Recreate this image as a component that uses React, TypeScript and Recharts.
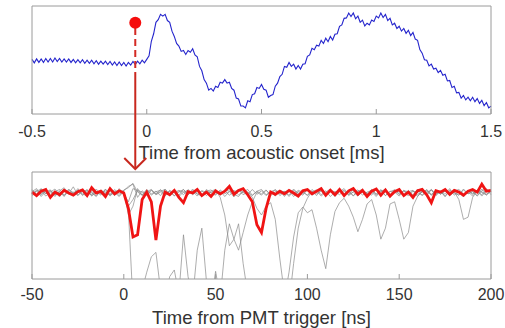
import { LineChart, Line, XAxis, YAxis, ReferenceDot, ReferenceLine } from "recharts";

// top panel: acoustic signal, sampled every 0.01 ms from -0.5 ms
const acousticStart = -0.5;
const acousticStep = 0.01;
const acousticValues = [
  0.04, -0.04, 0.05, -0.03, 0.05, -0.03, 0.06, -0.02, 0.06, -0.02,
  0.07, -0.01, 0.06, -0.02, 0.05, -0.02, 0.05, -0.03, 0.04, -0.04,
  0.03, -0.04, 0.03, -0.05, 0.02, -0.05, 0.02, -0.06, 0.01, -0.07,
  0.0, -0.07, 0.0, -0.08, -0.01, -0.09, -0.02, -0.1, -0.02, -0.1,
  -0.03, -0.11, -0.03, -0.09, -0.01, -0.08, 0.0, -0.06, 0.02, -0.04,
  0.04, 0.12, 0.45, 0.62, 0.88, 0.94, 1.06, 1.02, 1.06, 0.92,
  0.88, 0.68, 0.56, 0.4, 0.34, 0.22, 0.24, 0.15, 0.24, 0.2,
  0.28, 0.14, 0.1, -0.12, -0.22, -0.42, -0.5, -0.66, -0.62, -0.68,
  -0.57, -0.6, -0.48, -0.5, -0.42, -0.5, -0.48, -0.62, -0.66, -0.84,
  -0.86, -1.02, -1.02, -1.06, -0.9, -0.92, -0.76, -0.74, -0.6, -0.62,
  -0.53, -0.64, -0.66, -0.82, -0.78, -0.76, -0.57, -0.5, -0.35, -0.3,
  -0.12, -0.14, -0.03, -0.12, -0.07, -0.18, -0.1, -0.18, -0.07, -0.06,
  0.11, 0.14, 0.29, 0.26, 0.36, 0.34, 0.47, 0.4, 0.52, 0.44,
  0.56, 0.48, 0.61, 0.62, 0.79, 0.82, 0.97, 0.98, 1.09, 1.01,
  1.09, 0.96, 1.02, 0.88, 0.93, 0.8, 0.86, 0.82, 0.93, 0.9,
  1.02, 0.98, 1.09, 0.99, 1.06, 0.92, 0.97, 0.82, 0.86, 0.74,
  0.79, 0.68, 0.74, 0.63, 0.7, 0.58, 0.65, 0.5, 0.47, 0.26,
  0.18, 0.03, 0.02, -0.11, -0.07, -0.18, -0.16, -0.26, -0.21, -0.32,
  -0.3, -0.45, -0.44, -0.6, -0.57, -0.72, -0.71, -0.84, -0.78, -0.88,
  -0.82, -0.9, -0.82, -0.92, -0.85, -0.96, -0.89, -1.01, -0.94, -1.06,
  -1.02,
];
const acousticTicks = [-0.5, 0, 0.5, 1, 1.5];
const onset = { t: -0.05, v: 0.87, dashTop: 0.75, dashBottom: -0.27 };

// bottom panel: PMT traces, sampled every 2.5 ns from -50 ns
const pmtStart = -50;
const pmtStep = 2.5;
const redTrace = [
  0.02, -0.06, 0.04, 0.08, -0.1, 0.02, -0.04, 0.06, 0.0, -0.05,
  0.03, 0.07, -0.06, 0.12, 0.0, 0.04, -0.08, 0.1, -0.02, 0.05,
  0.0, -0.35, -1.0, -0.95, -0.15, 0.02, -0.2, -1.07, -0.3, 0.02,
  -0.04, 0.06, -0.1, -0.22, 0.03, 0.0, 0.08, -0.06, 0.02, -0.08,
  0.05, -0.02, 0.04, 0.15, -0.03, 0.06, 0.1, -0.04, -0.2, -0.72,
  -0.9, -0.35, 0.02, -0.03, 0.04, -0.02, 0.06, 0.0, -0.07, 0.05,
  0.08, -0.02, 0.04, 0.1, -0.05, 0.06, -0.04, 0.08, -0.06, 0.05,
  0.1, -0.03, 0.06, -0.08, 0.04, 0.09, -0.05, 0.07, -0.07, 0.03,
  0.08, -0.06, 0.02, -0.1, 0.05, 0.08, -0.04, -0.22, 0.05, 0.02,
  0.08, -0.03, 0.06, 0.02, -0.05, 0.04, 0.08, 0.02, 0.2, 0.04,
  0.06,
];
const gray1 = [
  0.06, -0.05, 0.1, -0.02, 0.04, -0.08, 0.05, 0.12, -0.03, 0.02,
  -0.06, 0.08, 0.0, -0.04, 0.09, -0.02, 0.05, -0.07, 0.03, 0.06,
  -0.02, -0.4, -2.5, -2.6, -2.2, -1.8, -1.45, -1.35, -2.2, -2.4,
  -1.9, -1.75, -2.3, -0.95, -1.9, -2.4, -1.3, -0.8, -2.0, -2.5,
  -1.78, -2.4, -1.3, -0.7, -1.05, -0.7, -1.6, -2.3, -2.6, -2.5,
  -2.6, -2.4, -2.6, -2.5, -2.6, -2.4, -1.8, -1.0, -0.45, -0.32,
  -0.45, -0.38, -0.8, -1.3, -1.72, -0.95, -0.42, -0.22, -0.12, -0.3,
  -0.55, -0.88, -0.6, -0.25, -0.15, -0.5, -1.05, -0.8, -0.25, -0.2,
  -0.6, -1.05, -0.9, -0.3, -0.08, 0.05, -0.06, 0.08, -0.03, 0.04,
  -0.08, 0.06, 0.0, -0.05, 0.09, -0.02, 0.03, -0.07, 0.05, 0.1,
  -0.04,
];
const gray2 = [
  -0.04, 0.07, -0.02, 0.05, -0.09, 0.03, 0.08, -0.05, 0.02, -0.03,
  0.1, -0.06, 0.04, 0.0, -0.08, 0.06, -0.02, 0.11, -0.04, 0.03,
  0.05, 0.15, 0.2, -0.1, 0.05, -0.04, 0.06, -0.02, 0.08, -0.05,
  0.03, -0.07, 0.06, 0.02, -0.04, 0.09, -0.03, 0.05, -0.06, 0.04,
  0.08, -0.02, 0.05, -0.05, 0.03, 0.07, -0.04, 0.02, -0.1, -0.35,
  -0.5, -0.3, -0.22, -0.6, -1.5, -2.3, -2.5, -1.6, -0.8, -0.35,
  -0.12, 0.04, -0.06, 0.08, -0.02, 0.05, -0.08, 0.03, 0.1, -0.04,
  0.02, -0.07, 0.06, 0.0, -0.05, 0.09, -0.03, 0.04, -0.1, 0.07,
  0.02, -0.04, 0.06, -0.08, 0.03, 0.05, -0.02, 0.08, -0.06, 0.04,
  -0.03, 0.1, -0.05, 0.02, -0.09, 0.06, -0.01, 0.04, -0.07, 0.05,
  0.02,
];
const gray3 = [
  0.08, -0.03, 0.05, -0.07, 0.02, 0.09, -0.04, 0.06, -0.01, 0.14,
  -0.05, 0.03, 0.07, -0.06, 0.04, -0.02, 0.08, -0.05, 0.01, -0.08,
  0.04, -0.5, -0.3, 0.1, -0.05, 0.07, -0.02, 0.04, -0.06, 0.09,
  -0.03, 0.05, -0.08, 0.02, 0.06, -0.04, 0.03, -0.07, 0.08, 0.0,
  -0.05, 0.07, -0.02, 0.04, -0.09, 0.06, 0.01, -0.04, 0.08, -0.03,
  0.05, -0.06, 0.03, 0.07, -0.02, 0.04, -0.08, 0.06, 0.0, -0.05,
  0.08, -0.03, 0.05, -0.07, 0.02, 0.09, -0.04, 0.06, -0.01, 0.03,
  -0.06, 0.04, 0.08, -0.05, 0.02, -0.08, 0.06, 0.03, -0.04, 0.07,
  -0.02, 0.05, -0.07, 0.04, 0.01, -0.05, 0.08, -0.03, 0.06, -0.02,
  0.04, -0.06, 0.03, -0.15, -0.6, -0.55, -0.1, 0.05, -0.04, 0.08,
  0.03,
];
const gray4 = [
  -0.06, 0.04, 0.09, -0.02, 0.06, -0.05, 0.03, -0.08, 0.07, 0.01,
  0.05, -0.04, 0.08, -0.07, 0.02, 0.06, -0.03, 0.04, -0.06, 0.1,
  -0.02, -0.2, 0.1, 0.05, -0.06, 0.03, 0.08, -0.04, 0.02, -0.07,
  0.06, 0.0, -0.05, 0.08, -0.03, 0.04, -0.07, 0.05, 0.02, -0.04,
  0.07, -0.1, -0.5, -1.2, -1.05, -1.3, -0.9, -0.5, -0.2, 0.02,
  -0.05, 0.06, -0.03, 0.08, -0.06, 0.03, 0.05, -0.08, 0.04, -0.02,
  0.07, -0.05, 0.02, 0.09, -0.04, 0.06, -0.07, 0.03, 0.05, -0.03,
  0.08, -0.06, 0.04, -0.02, 0.07, -0.05, 0.03, 0.09, -0.04, 0.02,
  -0.07, 0.05, 0.03, -0.04, 0.08, -0.06, 0.02, 0.06, -0.03, 0.04,
  -0.08, 0.05, 0.01, -0.05, 0.07, -0.02, 0.04, -0.06, 0.09, -0.03,
  0.05,
];
const gray5 = [
  0.03, 0.1, -0.05, 0.06, -0.03, 0.04, -0.09, 0.07, 0.02, -0.04,
  0.06, -0.02, -0.07, 0.05, 0.03, -0.05, 0.09, -0.03, 0.04, -0.06,
  0.07, 0.12, 0.22, 0.02, -0.04, 0.08, -0.05, 0.03, 0.06, -0.03,
  0.05, -0.06, 0.02, 0.08, -0.04, 0.06, -0.02, -0.07, 0.04, 0.07,
  -0.03, 0.05, -0.08, 0.03, 0.06, -0.04, 0.02, 0.08, -0.05, 0.04,
  -0.02, 0.07, -0.06, 0.03, 0.05, -0.08, 0.04, -0.03, 0.06, 0.02,
  -0.05, 0.08, -0.02, 0.04, -0.07, 0.05, 0.03, -0.04, 0.06, -0.06,
  0.03, 0.07, -0.05, 0.02, 0.06, -0.03, 0.08, -0.06, 0.04, 0.01,
  0.05, -0.07, 0.03, 0.06, -0.04, 0.02, 0.07, -0.05, 0.03, -0.02,
  0.06, -0.04, 0.08, 0.02, -0.06, 0.05, -0.03, 0.07, 0.03, -0.05,
  0.04,
];
const gray6 = [
  -0.02, 0.05, -0.08, 0.03, 0.07, -0.04, 0.02, -0.06, 0.09, -0.03,
  0.04, 0.08, -0.05, 0.02, -0.07, 0.06, 0.01, -0.04, 0.08, -0.02,
  0.03, -0.3, -0.15, 0.06, 0.02, -0.05, 0.07, -0.03, 0.04, 0.08,
  -0.06, 0.03, 0.05, -0.04, 0.08, -0.02, 0.06, -0.07, 0.03, 0.01,
  0.06, -0.05, 0.04, 0.07, -0.03, -0.08, 0.05, 0.02, -0.06, 0.04,
  0.08, -0.04, 0.03, -0.07, 0.06, 0.02, -0.05, 0.09, -0.02, 0.04,
  -0.06, 0.03, 0.07, -0.04, 0.05, -0.08, 0.02, 0.06, -0.03, 0.05,
  -0.07, 0.04, 0.02, -0.05, 0.08, -0.02, 0.05, -0.06, 0.03, 0.07,
  -0.04, 0.06, -0.02, 0.05, -0.08, 0.03, 0.04, -0.05, 0.07, -0.03,
  0.05, -0.06, 0.04, 0.08, -0.02, 0.03, -0.07, 0.06, 0.01, -0.04,
  0.06,
];
const grayTraces = [gray1, gray2, gray3, gray4, gray5, gray6];
const pmtTicks = [-50, 0, 50, 100, 150, 200];

const acousticData = acousticValues.map((v, i) => ({
  t: +(acousticStart + i * acousticStep).toFixed(3),
  v,
}));

const pmtData = redTrace.map((v, i) => {
  const row: Record<string, number> = { t: pmtStart + i * pmtStep, red: v };
  grayTraces.forEach((g, k) => {
    row["g" + k] = g[i];
  });
  return row;
});

const W = 505;
const LEFT = 32;
const RIGHT = 14;
const FRAME = "#9a9a9a";
const TEXT = "#333";
const TOP_DOMAIN: [number, number] = [-1.2, 1.25];
const BOTTOM_DOMAIN: [number, number] = [-1.955, 0.477];
const TOP_PLOT = { top: 6, bottom: 114 };

const tickStyle = { fill: TEXT, fontSize: 16 };

export default function App() {
  // pixel position of the onset marker, for the arrow that crosses both panels
  const plotW = W - LEFT - RIGHT;
  const ax = LEFT + ((onset.t - acousticTicks[0]) / (acousticTicks[4] - acousticTicks[0])) * plotW;
  const ay =
    TOP_PLOT.top +
    ((TOP_DOMAIN[1] - onset.dashBottom) / (TOP_DOMAIN[1] - TOP_DOMAIN[0])) *
      (TOP_PLOT.bottom - TOP_PLOT.top);
  const tipY = 169;

  // axes of width/height 1 so that all four sides of the box are drawn
  const margin = { top: 0, right: RIGHT - 1, bottom: 0, left: LEFT - 1 };

  return (
    <div
      style={{
        position: "absolute",
        left: 0,
        top: 0,
        width: W,
        height: 328,
        background: "#fff",
        fontFamily: "'Liberation Sans', Arial, Helvetica, sans-serif",
      }}
    >
      <div style={{ position: "absolute", left: 0, top: 0 }}>
        <LineChart width={W} height={165} data={acousticData} margin={{ ...margin, top: TOP_PLOT.top - 1 }}>
          <XAxis
            xAxisId="b"
            dataKey="t"
            type="number"
            domain={[-0.5, 1.5]}
            ticks={acousticTicks}
            interval={0}
            height={51}
            tickSize={-5}
            tickMargin={17}
            stroke={FRAME}
            tick={tickStyle}
            label={{ value: "Time from acoustic onset [ms]", position: "insideBottom", offset: 6, fill: TEXT, fontSize: 18.5 }}
          />
          <XAxis xAxisId="t" orientation="top" dataKey="t" type="number" domain={[-0.5, 1.5]} ticks={acousticTicks} height={1} tickSize={-5} tick={false} stroke={FRAME} />
          <YAxis yAxisId="l" domain={TOP_DOMAIN} ticks={[-1, 0, 1]} width={1} tickSize={-5} tick={false} stroke={FRAME} />
          <YAxis yAxisId="r" orientation="right" domain={TOP_DOMAIN} ticks={[-1, 0, 1]} width={1} tickSize={-5} tick={false} stroke={FRAME} />
          <Line xAxisId="b" yAxisId="l" dataKey="v" stroke="#2424cc" strokeWidth={1.1} dot={false} isAnimationActive={false} />
          <ReferenceLine
            xAxisId="b"
            yAxisId="l"
            segment={[
              { x: onset.t, y: onset.dashTop },
              { x: onset.t, y: onset.dashBottom },
            ]}
            stroke="#d42a24"
            strokeWidth={2}
            strokeDasharray="7 4"
          />
          <ReferenceDot xAxisId="b" yAxisId="l" x={onset.t} y={onset.v} r={6} fill="#f50d0d" stroke="none" />
        </LineChart>
      </div>

      <div style={{ position: "absolute", left: 0, top: 165 }}>
        <LineChart width={W} height={163} data={pmtData} margin={{ ...margin, top: 6 }}>
          <XAxis
            xAxisId="b"
            dataKey="t"
            type="number"
            domain={[-50, 200]}
            ticks={pmtTicks}
            interval={0}
            height={49}
            tickSize={-5}
            tickMargin={15}
            stroke={FRAME}
            tick={tickStyle}
            label={{ value: "Time from PMT trigger [ns]", position: "insideBottom", offset: 4, fill: TEXT, fontSize: 18.5 }}
          />
          <XAxis xAxisId="t" orientation="top" dataKey="t" type="number" domain={[-50, 200]} ticks={pmtTicks} height={1} tickSize={-5} tick={false} stroke={FRAME} />
          <YAxis yAxisId="l" domain={BOTTOM_DOMAIN} ticks={[-1, 0]} width={1} tickSize={-5} tick={false} stroke={FRAME} allowDataOverflow />
          <YAxis yAxisId="r" orientation="right" domain={BOTTOM_DOMAIN} ticks={[-1, 0]} width={1} tickSize={-5} tick={false} stroke={FRAME} allowDataOverflow />
          {grayTraces.map((_, k) => (
            <Line
              key={k}
              xAxisId="b"
              yAxisId="l"
              dataKey={"g" + k}
              stroke="#8a8a8a"
              strokeWidth={0.7}
              dot={false}
              isAnimationActive={false}
            />
          ))}
          <Line xAxisId="b" yAxisId="l" dataKey="red" stroke="#f01414" strokeWidth={2.8} dot={false} isAnimationActive={false} />
        </LineChart>
      </div>

      <svg width={W} height={328} style={{ position: "absolute", left: 0, top: 0, pointerEvents: "none" }}>
        <line x1={ax} y1={ay} x2={ax} y2={tipY} stroke="#c8281e" strokeWidth={2} />
        <polyline
          points={`${ax - 11},${tipY - 11} ${ax},${tipY} ${ax + 11},${tipY - 11}`}
          fill="none"
          stroke="#c8281e"
          strokeWidth={2}
        />
      </svg>
    </div>
  );
}
